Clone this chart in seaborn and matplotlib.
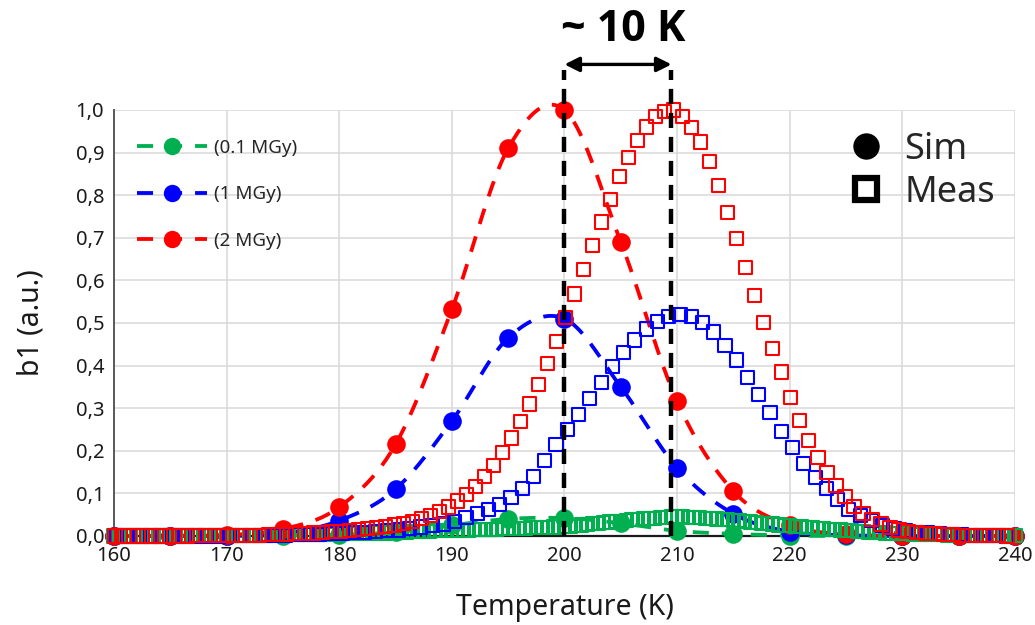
import numpy as np
import pandas as pd
import matplotlib
matplotlib.use("Agg")
import matplotlib.pyplot as plt
import seaborn as sns
from matplotlib.lines import Line2D
from matplotlib.ticker import FuncFormatter, MultipleLocator

sns.set_theme(style="whitegrid")
plt.rcParams["font.family"] = ["Noto Sans", "DejaVu Sans"]

# ---- simulated b1 (every 5 K) ----
sim_temp = [160, 165, 170, 175, 180, 185, 190, 195, 200,
            205, 210, 215, 220, 225, 230, 235, 240]
sim_01 = [0.000, 0.000, 0.000, 0.001, 0.003, 0.009, 0.025, 0.040, 0.042,
          0.030, 0.012, 0.005, 0.001, 0.000, 0.000, 0.000, 0.000]
sim_1 = [0.000, 0.000, 0.001, 0.006, 0.036, 0.110, 0.270, 0.465, 0.510,
         0.350, 0.160, 0.052, 0.010, 0.002, 0.000, 0.000, 0.000]
sim_2 = [0.000, 0.001, 0.002, 0.016, 0.068, 0.215, 0.532, 0.910, 1.000,
         0.690, 0.316, 0.105, 0.025, 0.004, 0.001, 0.000, 0.000]

# ---- measured b1 (0.1 MGy: 160.0 K, 0.5 K step) ----
meas_01_start, meas_01_step = 160.0, 0.5
meas_01 = [
    0.000, 0.000, 0.000, 0.000, 0.000, 0.000, 0.000, 0.000, 0.000, 0.000,
    0.001, 0.001, 0.001, 0.001, 0.001, 0.001, 0.001, 0.001, 0.001, 0.001,
    0.001, 0.001, 0.001, 0.001, 0.002, 0.002, 0.002, 0.002, 0.002, 0.003,
    0.003, 0.003, 0.003, 0.003, 0.004, 0.004, 0.004, 0.004, 0.004, 0.005,
    0.005, 0.005, 0.005, 0.006, 0.006, 0.006, 0.007, 0.007, 0.007, 0.008,
    0.008, 0.009, 0.009, 0.010, 0.010, 0.011, 0.011, 0.012, 0.012, 0.013,
    0.013, 0.013, 0.014, 0.014, 0.015, 0.015, 0.015, 0.016, 0.016, 0.017,
    0.017, 0.017, 0.018, 0.018, 0.019, 0.019, 0.020, 0.020, 0.021, 0.021,
    0.022, 0.023, 0.024, 0.026, 0.027, 0.029, 0.030, 0.031, 0.033, 0.034,
    0.035, 0.036, 0.038, 0.039, 0.040, 0.041, 0.042, 0.043, 0.044, 0.045,
    0.045, 0.045, 0.044, 0.044, 0.043, 0.042, 0.041, 0.040, 0.039, 0.038,
    0.037, 0.036, 0.034, 0.033, 0.032, 0.030, 0.029, 0.028, 0.026, 0.025,
    0.024, 0.023, 0.022, 0.020, 0.019, 0.018, 0.017, 0.016, 0.015, 0.014,
    0.013, 0.012, 0.011, 0.010, 0.009, 0.008, 0.008, 0.007, 0.006, 0.006,
    0.005, 0.005, 0.004, 0.004, 0.003, 0.003, 0.003, 0.003, 0.002, 0.002,
    0.002, 0.002, 0.002, 0.001, 0.001, 0.001, 0.001, 0.001, 0.001, 0.001,
    0.001,
]

# ---- measured b1 (1 MGy: 160.25 K, 1 K step) ----
meas_1_start, meas_1_step = 160.25, 1.0
meas_1 = [
    0.000, 0.000, 0.000, 0.000, 0.000, 0.000, 0.000, 0.000, 0.000, 0.000,
    0.001, 0.001, 0.001, 0.002, 0.002, 0.002, 0.003, 0.003, 0.004, 0.005,
    0.006, 0.008, 0.009, 0.010, 0.012, 0.014, 0.017, 0.021, 0.025, 0.028,
    0.035, 0.043, 0.052, 0.062, 0.074, 0.090, 0.112, 0.140, 0.178, 0.215,
    0.250, 0.285, 0.322, 0.360, 0.397, 0.430, 0.460, 0.486, 0.503, 0.516,
    0.520, 0.516, 0.501, 0.479, 0.448, 0.413, 0.373, 0.332, 0.289, 0.246,
    0.208, 0.170, 0.138, 0.111, 0.085, 0.062, 0.048, 0.036, 0.025, 0.017,
    0.012, 0.009, 0.007, 0.005, 0.004, 0.003, 0.002, 0.001, 0.001, 0.000,
]

# ---- measured b1 (2 MGy: 160.1 K, 0.8 K step) ----
meas_2_start, meas_2_step = 160.1, 0.8
meas_2 = [
    0.000, 0.000, 0.000, 0.000, 0.000, 0.000, 0.000, 0.000, 0.000, 0.001,
    0.001, 0.001, 0.001, 0.001, 0.002, 0.002, 0.002, 0.003, 0.003, 0.004,
    0.005, 0.006, 0.007, 0.008, 0.010, 0.011, 0.013, 0.015, 0.017, 0.020,
    0.023, 0.026, 0.030, 0.035, 0.041, 0.048, 0.057, 0.068, 0.082, 0.098,
    0.117, 0.140, 0.166, 0.196, 0.230, 0.268, 0.310, 0.356, 0.405, 0.457,
    0.512, 0.568, 0.625, 0.682, 0.737, 0.789, 0.843, 0.888, 0.928, 0.960,
    0.985, 0.997, 1.000, 0.985, 0.958, 0.925, 0.880, 0.822, 0.760, 0.698,
    0.630, 0.565, 0.502, 0.440, 0.385, 0.325, 0.272, 0.225, 0.185, 0.150,
    0.118, 0.092, 0.070, 0.053, 0.039, 0.028, 0.020, 0.014, 0.010, 0.008,
    0.006, 0.005, 0.004, 0.003, 0.002, 0.002, 0.001, 0.001, 0.001, 0.000,
]

dose_labels = ["(0.1 MGy)", "(1 MGy)", "(2 MGy)"]
colors = ["#00B050", "#0000FF", "#FF0000"]
peak_sim_T, peak_meas_T = 200.0, 209.5
x_ticks = list(range(160, 241, 10))


def temps(start, step, values):
    return start + step * np.arange(len(values))


def smooth_curve(x, y, n=24):
    """Catmull-Rom style smoothed line through the points (like a spreadsheet 'smoothed line')."""
    x = np.asarray(x, float)
    y = np.asarray(y, float)
    my = np.gradient(y)
    t = np.linspace(0, 1, n, endpoint=False)
    h00 = 2 * t**3 - 3 * t**2 + 1
    h10 = t**3 - 2 * t**2 + t
    h01 = -2 * t**3 + 3 * t**2
    h11 = t**3 - t**2
    xs, ys = [], []
    for i in range(len(x) - 1):
        xs.append(x[i] + (x[i + 1] - x[i]) * t)
        ys.append(h00 * y[i] + h10 * my[i] + h01 * y[i + 1] + h11 * my[i + 1])
    xs.append([x[-1]])
    ys.append([y[-1]])
    return np.concatenate(xs), np.concatenate(ys)


fig = plt.figure(figsize=(10.35, 6.25), dpi=100)
ax = fig.add_axes([0.1101, 0.1424, 0.8706, 0.6816])
ax.set_facecolor("white")

dash_style = (0, (4.2, 3.4))
sims = [sim_01, sim_1, sim_2]
meas = [(meas_01_start, meas_01_step, meas_01),
        (meas_1_start, meas_1_step, meas_1),
        (meas_2_start, meas_2_step, meas_2)]

# simulated: smoothed dashed line plus filled circles
for vals, col in zip(sims, colors):
    sx, sy = smooth_curve(sim_temp, vals)
    line_df = pd.DataFrame({"T": sx, "b1": sy})
    sns.lineplot(data=line_df, x="T", y="b1", ax=ax, color=col, lw=2.75,
                 linestyle=dash_style, sort=False, estimator=None,
                 zorder=3, clip_on=False)
    pts = pd.DataFrame({"T": sim_temp, "b1": vals})
    sns.scatterplot(data=pts, x="T", y="b1", ax=ax, color=col, marker="o",
                    s=180, linewidth=0, zorder=4, clip_on=False)

# measured: hollow squares
for (start, step, vals), col in zip(meas, colors):
    pts = pd.DataFrame({"T": temps(start, step, vals), "b1": vals})
    sns.scatterplot(data=pts, x="T", y="b1", ax=ax, color=col, marker="s",
                    s=90, facecolor="none", edgecolor=col, linewidth=1.5,
                    zorder=5, clip_on=False)

# peak markers: vertical dashed lines and the shift arrow
for xv in (peak_sim_T, peak_meas_T):
    ax.plot([xv, xv], [0, 1.095], color="black", lw=3.2,
            linestyle=(0, (3.4, 2.0)), zorder=6, clip_on=False)
ax.annotate("", xy=(peak_meas_T, 1.107), xytext=(peak_sim_T, 1.107),
            xycoords="data",
            arrowprops=dict(arrowstyle="<|-|>", color="black", lw=2.4,
                            mutation_scale=22, shrinkA=0, shrinkB=0),
            annotation_clip=False)
ax.text(205.2, 1.19, "~ 10 K", ha="center", va="center", fontsize=31,
        fontweight="bold", color="black",
        family=["Open Sans", "DejaVu Sans"], clip_on=False)

# axes styling
ax.set_xlim(160, 240)
ax.set_ylim(0, 1.0)
ax.set_xticks(x_ticks)
ax.yaxis.set_major_locator(MultipleLocator(0.1))
ax.yaxis.set_major_formatter(FuncFormatter(lambda v, p: f"{v:.1f}".replace(".", ",")))
ax.grid(True, color="#D9D9D9", lw=1.1)
ax.tick_params(axis="both", length=0, labelsize=14.5, colors="#1a1a1a", pad=7)
for side in ("top", "right"):
    ax.spines[side].set_visible(False)
ax.spines["left"].set_color("#595959")
ax.spines["left"].set_linewidth(1.4)
ax.spines["bottom"].set_color("#1a1a1a")
ax.spines["bottom"].set_linewidth(1.6)
ax.set_xlabel("Temperature (K)", fontsize=20.5, color="#1a1a1a", labelpad=20)
ax.set_ylabel("b1 (a.u.)", fontsize=20.5, color="#1a1a1a", labelpad=22)

# legend: dose series
dose_handles = [Line2D([], [], color=c, lw=2.75, linestyle=dash_style,
                       marker="o", markersize=12.5, markeredgewidth=0)
                for c in colors]
leg1 = ax.legend(dose_handles, dose_labels, loc="upper left",
                 bbox_to_anchor=(0.1324, 0.778), bbox_transform=fig.transFigure,
                 frameon=False, fontsize=13.5, handlelength=3.75,
                 handletextpad=0.37, labelspacing=1.52, numpoints=1,
                 borderaxespad=0, borderpad=0)
ax.add_artist(leg1)

# legend: marker meaning
kind_handles = [
    Line2D([], [], color="black", lw=0, marker="o", markersize=19,
           markeredgewidth=0),
    Line2D([], [], color="black", lw=0, marker="s", markersize=16,
           markerfacecolor="white", markeredgecolor="black",
           markeredgewidth=4.5),
]
ax.legend(kind_handles, ["Sim", "Meas"], loc="upper left",
          bbox_to_anchor=(0.818, 0.789), bbox_transform=fig.transFigure,
          frameon=False, fontsize=26, handlelength=1.1, handletextpad=0.5,
          labelspacing=0.19, borderaxespad=0, borderpad=0)

fig.savefig("out.png", dpi=100, facecolor="white")
